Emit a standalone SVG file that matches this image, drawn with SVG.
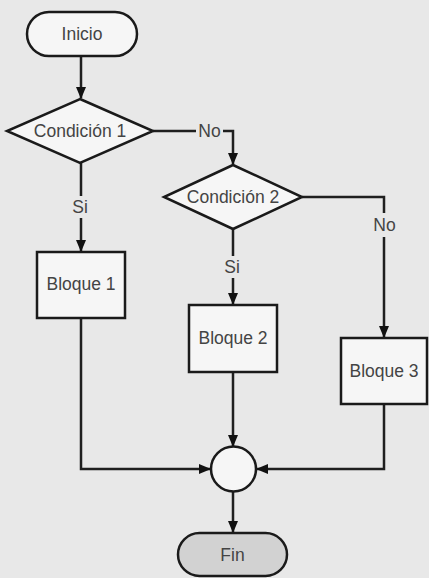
<svg xmlns="http://www.w3.org/2000/svg" width="429" height="578" viewBox="0 0 429 578">
<defs>
<style>
.bg{fill:#e8e8e8}
.node{fill:#f6f6f6;stroke:#1a1a1a;stroke-width:2.5}
.end{fill:#d2d2d2;stroke:#1a1a1a;stroke-width:2.5}
.edge{fill:none;stroke:#1f1f1f;stroke-width:2.5}
.t{font-family:"Liberation Sans",Arial,sans-serif;font-size:17.5px;fill:#444;text-anchor:middle;dominant-baseline:central}
.lbl{fill:#e8e8e8}
</style>
<marker id="arr" viewBox="0 0 12 10" refX="11" refY="5" markerWidth="12" markerHeight="10" markerUnits="userSpaceOnUse" orient="auto">
<path d="M0,0 L12,5 L0,10 Z" fill="#111"/>
</marker>
</defs>
<rect class="bg" x="0" y="0" width="429" height="578"/>
<g id="connectors">
<path class="edge" d="M81,56 V98" marker-end="url(#arr)"/>
<path class="edge" d="M153,131 H233 V164" marker-end="url(#arr)"/>
<path class="edge" d="M81,163 V251" marker-end="url(#arr)"/>
<path class="edge" d="M233,229 V304" marker-end="url(#arr)"/>
<path class="edge" d="M302,197 H384 V337" marker-end="url(#arr)"/>
<path class="edge" d="M81,318 V469 H210" marker-end="url(#arr)"/>
<path class="edge" d="M233,372 V446" marker-end="url(#arr)"/>
<path class="edge" d="M384,404 V469 H257" marker-end="url(#arr)"/>
<path class="edge" d="M233,492 V532" marker-end="url(#arr)"/>
<rect class="lbl" x="196" y="122" width="27" height="18"/>
<text class="t" x="209.5" y="131">No</text>
<rect class="lbl" x="70" y="196" width="22" height="22"/>
<text class="t" x="80" y="207">Si</text>
<rect class="lbl" x="222" y="256" width="22" height="22"/>
<text class="t" x="232" y="267">Si</text>
<rect class="lbl" x="371" y="213" width="27" height="24"/>
<text class="t" x="384.5" y="225">No</text>
</g>
<g id="inicio">
<rect class="node" x="27" y="12" width="110" height="44" rx="22" ry="22"/>
<text class="t" x="82" y="34">Inicio</text>
</g>
<g id="condicion1">
<polygon class="node" points="80,99 153,131 80,163 7,131"/>
<text class="t" x="80" y="131">Condición 1</text>
</g>
<g id="condicion2">
<polygon class="node" points="233,165 302,197 233,229 164,197"/>
<text class="t" x="233" y="197">Condición 2</text>
</g>
<g id="bloque1">
<rect class="node" x="37" y="252" width="88" height="66"/>
<text class="t" x="81" y="284">Bloque 1</text>
</g>
<g id="bloque2">
<rect class="node" x="189" y="305" width="88" height="67"/>
<text class="t" x="233" y="338">Bloque 2</text>
</g>
<g id="bloque3">
<rect class="node" x="341" y="338" width="86" height="66"/>
<text class="t" x="384" y="371">Bloque 3</text>
</g>
<g id="union">
<circle class="node" cx="233.5" cy="469" r="22.5"/>
</g>
<g id="fin">
<rect class="end" x="178" y="533" width="109" height="43" rx="21.5" ry="21.5"/>
<text class="t" x="232.5" y="555">Fin</text>
</g>
</svg>
